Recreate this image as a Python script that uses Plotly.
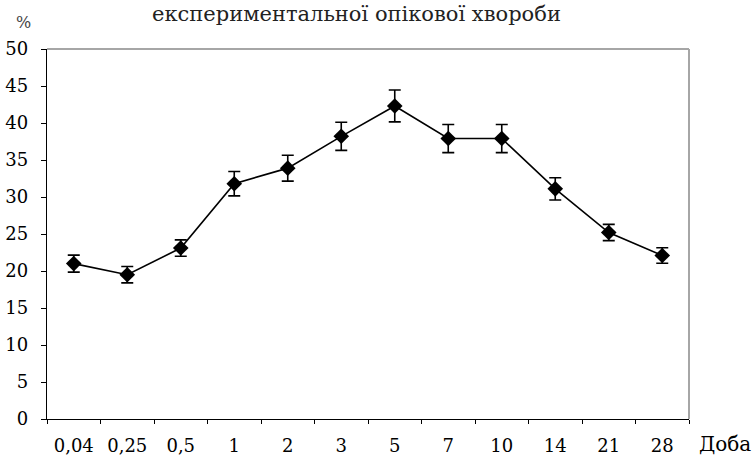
import plotly.graph_objects as go

categories = ["0,04", "0,25", "0,5", "1", "2", "3", "5", "7", "10", "14", "21", "28"]
values = [21.0, 19.5, 23.1, 31.8, 33.9, 38.2, 42.3, 37.9, 37.9, 31.1, 25.2, 22.1]
errors = [1.15, 1.1, 1.1, 1.65, 1.75, 1.9, 2.15, 1.9, 1.9, 1.5, 1.1, 1.05]
y_ticks = list(range(0, 55, 5))

title_text = "експериментальної опікової хвороби"
FONT = "DejaVu Serif"

fig = go.Figure()
fig.add_trace(go.Scatter(
    x=categories, y=values,
    mode="lines+markers",
    line=dict(color="black", width=1.6),
    marker=dict(symbol="diamond", size=12, color="black"),
    error_y=dict(type="data", array=errors, visible=True, color="black", thickness=1.6, width=6),
    showlegend=False,
))

W, H = 756, 457
L, R, T, B = 47, 67, 49, 38

fig.update_layout(
    width=W, height=H,
    margin=dict(l=L, r=R, t=T, b=B, autoexpand=False),
    paper_bgcolor="white", plot_bgcolor="white",
    font=dict(family=FONT, size=18, color="black"),
    xaxis=dict(
        type="category", range=[-0.5, 11.5], automargin=False,
        showgrid=False, zeroline=False,
        showline=True, linecolor="black", linewidth=1.3,
        ticks="outside", ticklen=4, tickcolor="black", tickwidth=1.3,
        tickson="boundaries", ticklabelstandoff=10,
        tickfont=dict(family=FONT, size=18, color="black"),
    ),
    yaxis=dict(
        range=[0, 50], tickvals=y_ticks, automargin=False,
        showgrid=False, zeroline=False,
        showline=True, linecolor="black", linewidth=1.3,
        ticks="outside", ticklen=5, tickcolor="black", tickwidth=1.3,
        ticklabelstandoff=9,
        tickfont=dict(family=FONT, size=18, color="black"),
    ),
    shapes=[
        dict(type="line", xref="paper", yref="paper", x0=0, x1=1, y0=1, y1=1,
             line=dict(color="#a6a6a6", width=2), layer="below"),
        dict(type="line", xref="paper", yref="paper", x0=1, x1=1, y0=0, y1=1,
             line=dict(color="#a6a6a6", width=2), layer="below"),
    ],
    annotations=[
        dict(text=title_text, xref="paper", yref="paper",
             x=(356 - L) / (W - L - R), y=(H - B - 0) / (H - T - B),
             xanchor="center", yanchor="top", showarrow=False,
             font=dict(family=FONT, size=21, color="#222222")),
        dict(text="%", xref="paper", yref="paper",
             x=(23 - L) / (W - L - R), y=(H - B - 22) / (H - T - B),
             xanchor="center", yanchor="middle", showarrow=False,
             font=dict(family=FONT, size=16, color="#444444")),
        dict(text="Доба", xref="paper", yref="paper",
             x=(725 - L) / (W - L - R), y=(H - B - 444) / (H - T - B),
             xanchor="center", yanchor="middle", showarrow=False,
             font=dict(family=FONT, size=20, color="black")),
    ],
)

fig.write_html("out.html")
